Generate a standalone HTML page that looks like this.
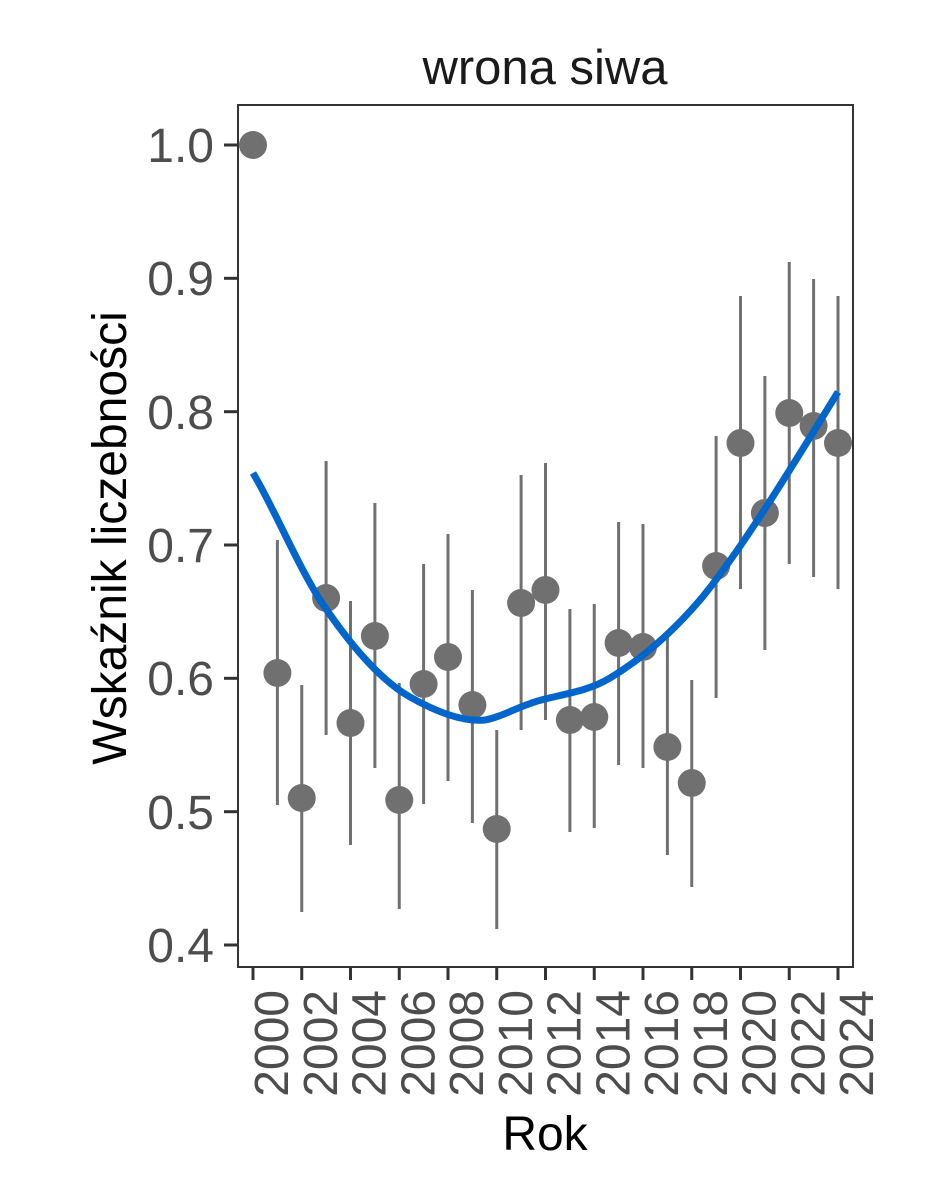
<!DOCTYPE html>
<html><head><meta charset="utf-8"><style>body{margin:0;background:#fff}</style></head><body>
<svg width="944" height="1181" xmlns="http://www.w3.org/2000/svg" font-family="Liberation Sans, Arial, sans-serif">
<rect width="944" height="1181" fill="#fff"/>
<rect x="238" y="105" width="615" height="862" fill="none" stroke="#333" stroke-width="2"/>
<g stroke="#333" stroke-width="3">
<line x1="224" x2="238" y1="145" y2="145"/><line x1="224" x2="238" y1="278.3" y2="278.3"/><line x1="224" x2="238" y1="411.7" y2="411.7"/><line x1="224" x2="238" y1="545" y2="545"/><line x1="224" x2="238" y1="678.3" y2="678.3"/><line x1="224" x2="238" y1="811.7" y2="811.7"/><line x1="224" x2="238" y1="945" y2="945"/>
</g>
<g fill="#4d4d4d" font-size="48" text-anchor="end">
<text x="214" y="162">1.0</text><text x="214" y="295">0.9</text><text x="214" y="429">0.8</text><text x="214" y="562">0.7</text><text x="214" y="695">0.6</text><text x="214" y="829">0.5</text><text x="214" y="962">0.4</text>
</g>
<g stroke="#333" stroke-width="3">
<line x1="253" x2="253" y1="967" y2="980"/><line x1="301.75" x2="301.75" y1="967" y2="980"/><line x1="350.5" x2="350.5" y1="967" y2="980"/><line x1="399.25" x2="399.25" y1="967" y2="980"/><line x1="448" x2="448" y1="967" y2="980"/><line x1="496.75" x2="496.75" y1="967" y2="980"/><line x1="545.5" x2="545.5" y1="967" y2="980"/><line x1="594.25" x2="594.25" y1="967" y2="980"/><line x1="643" x2="643" y1="967" y2="980"/><line x1="691.75" x2="691.75" y1="967" y2="980"/><line x1="740.5" x2="740.5" y1="967" y2="980"/><line x1="789.25" x2="789.25" y1="967" y2="980"/><line x1="838" x2="838" y1="967" y2="980"/>
</g>
<g fill="#4d4d4d" font-size="48" text-anchor="end">
<text transform="translate(288,990) rotate(-90)">2000</text>
<text transform="translate(336.75,990) rotate(-90)">2002</text>
<text transform="translate(385.5,990) rotate(-90)">2004</text>
<text transform="translate(434.25,990) rotate(-90)">2006</text>
<text transform="translate(483,990) rotate(-90)">2008</text>
<text transform="translate(531.75,990) rotate(-90)">2010</text>
<text transform="translate(580.5,990) rotate(-90)">2012</text>
<text transform="translate(629.25,990) rotate(-90)">2014</text>
<text transform="translate(678,990) rotate(-90)">2016</text>
<text transform="translate(726.75,990) rotate(-90)">2018</text>
<text transform="translate(775.5,990) rotate(-90)">2020</text>
<text transform="translate(824.25,990) rotate(-90)">2022</text>
<text transform="translate(873,990) rotate(-90)">2024</text>
</g>
<text x="545" y="84" font-size="49" text-anchor="middle" fill="#1a1a1a">wrona siwa</text>
<text x="545" y="1150" font-size="48" text-anchor="middle" fill="#000">Rok</text>
<text transform="translate(126,538) rotate(-90)" font-size="48" text-anchor="middle" fill="#000">Wskaźnik liczebności</text>
<g stroke="#707070" stroke-width="3">
<line x1="277.4" x2="277.4" y1="540" y2="805"/>
<line x1="301.75" x2="301.75" y1="685" y2="912"/>
<line x1="326.1" x2="326.1" y1="461" y2="735"/>
<line x1="350.5" x2="350.5" y1="601" y2="845"/>
<line x1="374.9" x2="374.9" y1="503" y2="768"/>
<line x1="399.25" x2="399.25" y1="683" y2="909"/>
<line x1="423.6" x2="423.6" y1="564" y2="804"/>
<line x1="448" x2="448" y1="534" y2="781"/>
<line x1="472.4" x2="472.4" y1="590" y2="823"/>
<line x1="496.75" x2="496.75" y1="730" y2="929"/>
<line x1="521.1" x2="521.1" y1="475" y2="730"/>
<line x1="545.5" x2="545.5" y1="463" y2="720"/>
<line x1="569.9" x2="569.9" y1="609" y2="832"/>
<line x1="594.25" x2="594.25" y1="604" y2="828"/>
<line x1="618.6" x2="618.6" y1="522" y2="765"/>
<line x1="643" x2="643" y1="524" y2="768"/>
<line x1="667.4" x2="667.4" y1="631" y2="855"/>
<line x1="691.75" x2="691.75" y1="680" y2="887"/>
<line x1="716.1" x2="716.1" y1="436" y2="698"/>
<line x1="740.5" x2="740.5" y1="296" y2="589"/>
<line x1="764.9" x2="764.9" y1="376" y2="650"/>
<line x1="789.25" x2="789.25" y1="262" y2="564"/>
<line x1="813.6" x2="813.6" y1="279" y2="577"/>
<line x1="838" x2="838" y1="296" y2="589"/>
</g>
<g fill="#707070">
<circle cx="253" cy="145" r="14"/>
<circle cx="277.4" cy="673" r="14"/>
<circle cx="301.75" cy="798" r="14"/>
<circle cx="326.1" cy="598" r="14"/>
<circle cx="350.5" cy="723" r="14"/>
<circle cx="374.9" cy="636" r="14"/>
<circle cx="399.25" cy="800" r="14"/>
<circle cx="423.6" cy="684" r="14"/>
<circle cx="448" cy="657" r="14"/>
<circle cx="472.4" cy="705" r="14"/>
<circle cx="496.75" cy="829" r="14"/>
<circle cx="521.1" cy="603" r="14"/>
<circle cx="545.5" cy="590" r="14"/>
<circle cx="569.9" cy="720" r="14"/>
<circle cx="594.25" cy="717" r="14"/>
<circle cx="618.6" cy="643" r="14"/>
<circle cx="643" cy="647" r="14"/>
<circle cx="667.4" cy="747" r="14"/>
<circle cx="691.75" cy="783" r="14"/>
<circle cx="716.1" cy="566" r="14"/>
<circle cx="740.5" cy="443" r="14"/>
<circle cx="764.9" cy="513" r="14"/>
<circle cx="789.25" cy="413" r="14"/>
<circle cx="813.6" cy="426" r="14"/>
<circle cx="838" cy="443" r="14"/>
</g>
<path d="M253,473 C275,510 295,560 320,600 C350,645 380,680 410,697 C440,714 465,722 485,720 C505,716 520,705 545,699 C570,693 590,690 610,678 C640,660 670,635 700,600 C740,552 790,470 838,392" fill="none" stroke="#0066cc" stroke-width="7"/>
</svg>
</body></html>
